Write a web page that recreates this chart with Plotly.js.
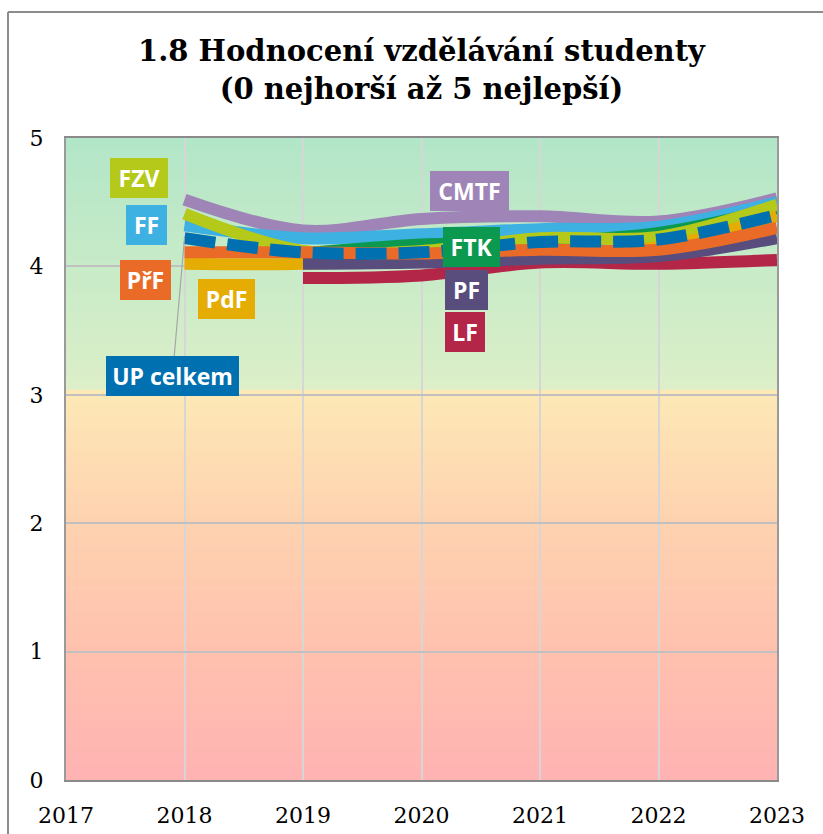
<!DOCTYPE html>
<html><head><meta charset="utf-8">
<script src="https://cdn.plot.ly/plotly-3.0.1.min.js"></script>
<style>html,body{margin:0;padding:0;background:#fff}#chart{width:823px;height:834px}</style>
</head><body><div id="chart"></div>
<script>
// ---- data ----
const years = [2018, 2019, 2020, 2021, 2022, 2023];
const CMTF = [4.52, 4.28, 4.37, 4.39, 4.35, 4.53];
const FF   = [4.32, 4.22, 4.25, 4.29, 4.31, 4.50];
const FTK  = [null, 4.10, 4.17, 4.19, 4.26, 4.45];
const FZV  = [4.41, 4.12, 4.12, 4.22, 4.23, 4.48];
const LF   = [null, 3.91, 3.93, 4.03, 4.02, 4.05];
const PdF  = [4.02, 4.02, 4.07, 4.11, 4.15, 4.39];
const PF   = [null, 4.02, 4.03, 4.06, 4.08, 4.22];
const PrF  = [4.11, 4.11, 4.10, 4.13, 4.13, 4.30];
const UP   = [4.22, 4.11, 4.11, 4.19, 4.21, 4.40];
const xTicks = [2017, 2018, 2019, 2020, 2021, 2022, 2023];
const yTicks = [0, 1, 2, 3, 4, 5];
const titleText = '1.8 Hodnocení vzdělávání studenty<br>(0 nejhorší až 5 nejlepší)';

// ---- styles ----
const series = [
  {name: 'CMTF', y: CMTF, color: '#9f85b7'},
  {name: 'FF', y: FF, color: '#3db1e1'},
  {name: 'FTK', y: FTK, color: '#0b9950'},
  {name: 'FZV', y: FZV, color: '#b4c91a'},
  {name: 'LF', y: LF, color: '#b42648'},
  {name: 'PdF', y: PdF, color: '#e5ad03'},
  {name: 'PF', y: PF, color: '#584d7d'},
  {name: 'PřF', y: PrF, color: '#ea6b27'},
  {name: 'UP celkem', y: UP, color: '#0070b0', dash: '31px,12px'}
];

const traces = series.map(s => ({
  type: 'scatter', mode: 'lines', x: years, y: s.y, name: s.name,
  line: {color: s.color, width: 12, shape: 'spline', smoothing: 1, dash: s.dash || 'solid'},
  connectgaps: false, hoverinfo: 'x+y+name'
}));

// plot geometry (pixels) for label placement
const L = 66, R = 777, T = 138, B = 780;
const px = x => (x - L) / (R - L);
const py = y => (B - y) / (B - T);

// background gradient bands
const stops = [[0, [255,179,179]], [1, [255,193,174]], [2, [254,210,176]], [3.04, [253,233,182]],
               [3.04, [220,239,200]], [5, [178,230,200]]];
function colAt(v) {
  for (let i = 0; i < stops.length - 1; i++) {
    const a = stops[i], b = stops[i+1];
    if (v >= a[0] && v <= b[0] && b[0] > a[0]) {
      const t = (v - a[0]) / (b[0] - a[0]);
      const c = a[1].map((ca, k) => Math.round(ca + (b[1][k] - ca) * t));
      return 'rgb(' + c.join(',') + ')';
    }
  }
  return 'rgb(178,230,200)';
}
const shapes = [];
const step = 0.04;
for (let v = 0; v < 5; v += step) {
  const mid = Math.min(v + step / 2, 5);
  shapes.push({type: 'rect', layer: 'below', xref: 'paper', yref: 'y', x0: 0, x1: 1,
    y0: v, y1: Math.min(v + step + 0.015, 5), fillcolor: colAt(mid), line: {width: 0}});
}
// outer chart frame (left and top edges visible)
const fx = px(8), fy = py(12);
shapes.push({type: 'line', xref: 'paper', yref: 'paper', x0: fx, x1: fx, y0: -0.2, y1: fy, line: {color: '#8c8c8c', width: 2}});
shapes.push({type: 'line', xref: 'paper', yref: 'paper', x0: fx, x1: 1.3, y0: fy, y1: fy, line: {color: '#8c8c8c', width: 2}});

const labels = [
  {text: 'FZV', cx: 139, cy: 178, w: 58, color: '#b4c91a'},
  {text: 'FF', cx: 146.5, cy: 225, w: 41, color: '#3db1e1'},
  {text: 'PřF', cx: 145.5, cy: 280, w: 51, color: '#ea6b27'},
  {text: 'PdF', cx: 226.5, cy: 299, w: 57, color: '#e5ad03'},
  {text: 'CMTF', cx: 469, cy: 191, w: 79, color: '#9f85b7'},
  {text: 'FTK', cx: 471.5, cy: 247, w: 57, color: '#0b9950'},
  {text: 'PF', cx: 466.5, cy: 290, w: 43, color: '#584d7d'},
  {text: 'LF', cx: 465, cy: 332, w: 40, color: '#b42648'}
];
const labelFont = {family: 'Open Sans, sans-serif', size: 23, color: '#ffffff'};
const annotations = labels.map(l => ({
  xref: 'paper', yref: 'paper', x: px(l.cx), y: py(l.cy), xanchor: 'center', yanchor: 'middle',
  text: '<b>' + l.text + '</b>', showarrow: false, bgcolor: l.color, width: l.w, height: 40,
  borderpad: 0, borderwidth: 0, font: labelFont
}));
// UP celkem label with leader line to the start of its line
const upX = 172.5, upY = 376;
const ptX = L + (years[0] - xTicks[0]) / (xTicks[6] - xTicks[0]) * (R - L);
const ptY = B - UP[0] / 5 * (B - T);
annotations.push({
  xref: 'x', yref: 'y', x: years[0], y: UP[0], ax: upX - ptX, ay: upY - ptY,
  text: '<b>UP celkem</b>', showarrow: true, arrowhead: 0, arrowwidth: 1.2, arrowcolor: '#a6a6a6',
  bgcolor: '#0070b0', width: 133, height: 40, borderpad: 0, borderwidth: 0, font: labelFont, standoff: 0
});

const tickFont = {family: 'DejaVu Serif, serif', size: 22, color: '#000'};
const layout = {
  width: 823, height: 834,
  margin: {l: L, r: 823 - R, t: T, b: 834 - B, pad: 0},
  paper_bgcolor: '#ffffff', plot_bgcolor: '#ffffff',
  showlegend: false,
  title: {text: '<b>' + titleText + '</b>', x: 0.5, xref: 'paper', xanchor: 'center',
          y: 1 - 61 / 834, yref: 'container', yanchor: 'middle',
          font: {family: 'DejaVu Serif, serif', size: 29, color: '#000'}},
  xaxis: {range: [2017, 2023], tickvals: xTicks, ticktext: xTicks.map(String), showgrid: true,
          gridcolor: '#d6d6d6', gridwidth: 2, zeroline: false, showline: true, linecolor: '#8a8a8a',
          linewidth: 2, mirror: true, ticks: '', tickfont: tickFont, ticklabelstandoff: 15, fixedrange: true},
  yaxis: {range: [0, 5], tickvals: yTicks, ticktext: yTicks.map(String), showgrid: true,
          gridcolor: '#c0c0c0', gridwidth: 2, zeroline: false, showline: true, linecolor: '#9a9a9a',
          linewidth: 2, mirror: true, ticks: '', tickfont: tickFont, ticklabelstandoff: 16, fixedrange: true},
  shapes: shapes,
  annotations: annotations
};
Plotly.newPlot('chart', traces, layout, {displayModeBar: false, staticPlot: true});
</script>
</body></html>
